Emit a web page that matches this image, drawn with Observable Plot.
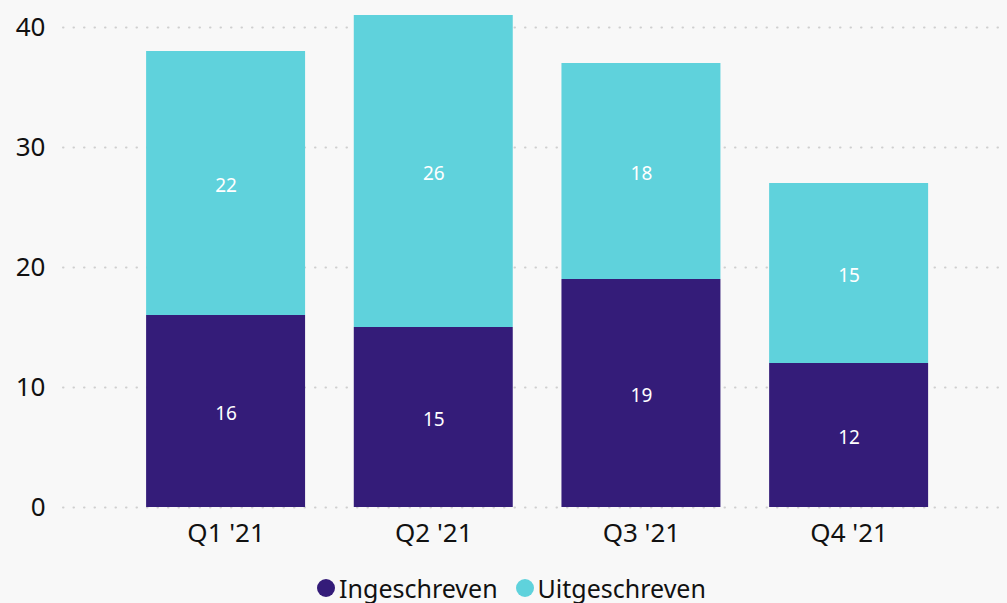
<!DOCTYPE html>
<html>
<head>
<meta charset="utf-8">
<script src="https://cdn.jsdelivr.net/npm/d3@7"></script>
<script src="https://cdn.jsdelivr.net/npm/@observablehq/plot@0.6"></script>
<style>
  html, body { margin: 0; padding: 0; background: #f8f8f8; }
  body { width: 1007px; height: 603px; overflow: hidden; font-family: "Noto Sans", sans-serif; }
  #legend { height: 48px; display: flex; justify-content: center; align-items: center; gap: 18px; font-size: 25px; color: #111; padding-left: 16px; padding-top: 18px; box-sizing: border-box; }
  .item { display: flex; align-items: center; gap: 4px; }
  .sw { width: 18px; height: 18px; border-radius: 50%; display: inline-block; }
  .xax text { font-size: 26px; }
  .yax text { font-size: 26px; }
</style>
</head>
<body>
<div id="chart"></div>
<div id="legend"></div>
<script>
const quarters = ["Q1 '21", "Q2 '21", "Q3 '21", "Q4 '21"];
const ingeschreven = [16, 15, 19, 12];
const uitgeschreven = [22, 26, 18, 15];
const seriesNames = ["Ingeschreven", "Uitgeschreven"];
const seriesColors = ["#341c79", "#5fd2dc"];
const yTicks = [0, 10, 20, 30, 40];

const data = [];
quarters.forEach((q, i) => data.push({quarter: q, series: seriesNames[0], value: ingeschreven[i]}));
quarters.forEach((q, i) => data.push({quarter: q, series: seriesNames[1], value: uitgeschreven[i]}));

const chart = Plot.plot({
  width: 1007,
  height: 555,
  marginLeft: 63,
  marginRight: 0,
  marginTop: 15,
  marginBottom: 48,
  style: { background: "#f8f8f8", fontFamily: "'Noto Sans', sans-serif", fontSize: "26px", color: "#111" },
  x: { domain: quarters, paddingInner: 0.2345, paddingOuter: 0.39, align: 0.513, round: false, label: null },
  y: { domain: [0, 41], label: null },
  color: { domain: seriesNames, range: seriesColors },
  marks: [
    Plot.ruleY(yTicks, { stroke: "#cfcfcf", strokeWidth: 2, strokeDasharray: "0.5,10", strokeLinecap: "round" }),
    Plot.barY(data, Plot.stackY({ x: "quarter", y: "value", fill: "series", z: "series" })),
    Plot.text(data, Plot.stackY({ x: "quarter", y: "value", z: "series", text: d => String(d.value), fill: "white", fontSize: 19, dy: 2 })),
    Plot.axisX({ tickSize: 0, tickPadding: 16, className: "xax" }),
    Plot.axisY({ ticks: yTicks, tickSize: 0, tickPadding: 18, className: "yax" })
  ]
});
document.getElementById("chart").appendChild(chart);

const legend = document.getElementById("legend");
seriesNames.forEach((s, i) => {
  const it = document.createElement("div");
  it.className = "item";
  const sw = document.createElement("span");
  sw.className = "sw";
  sw.style.background = seriesColors[i];
  const t = document.createElement("span");
  t.textContent = s;
  it.appendChild(sw);
  it.appendChild(t);
  legend.appendChild(it);
});
</script>
</body>
</html>
